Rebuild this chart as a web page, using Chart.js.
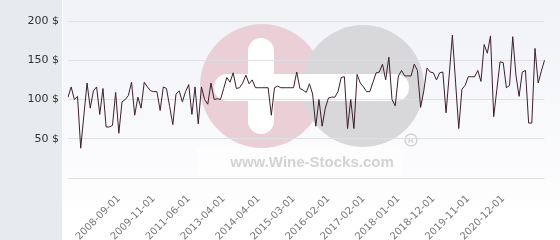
<!DOCTYPE html>
<html lang="en">
<head>
<meta charset="UTF-8">
<title>Wine price history</title>
<script src="https://cdn.jsdelivr.net/npm/chart.js"></script>
<style>
  html, body { margin: 0; padding: 0; background: #fff; }
  #wrap { width: 560px; height: 240px; position: relative; }
</style>
</head>
<body>
<div id="wrap"><canvas id="priceChart"></canvas></div>
<script>
// price per sale, in $
const prices = [
  103, 116, 100, 104, 38, 80, 121, 89, 111, 116,
  81, 114, 65, 65, 67, 109, 57, 97, 100, 105,
  122, 80, 103, 89, 122, 116, 111, 110, 110, 86,
  116, 114, 91, 68, 107, 111, 97, 110, 119, 81,
  116, 69, 116, 100, 94, 121, 100, 101, 100, 114,
  128, 122, 134, 114, 115, 121, 131, 120, 125, 115,
  115, 115, 115, 115, 80, 115, 117, 115, 115, 115,
  115, 115, 135, 114, 112, 109, 120, 107, 66, 100,
  66, 89, 102, 103, 103, 110, 128, 129, 63, 100,
  63, 132, 121, 116, 110, 110, 122, 134, 135, 145,
  125, 154, 100, 92, 130, 137, 130, 130, 130, 145,
  137, 90, 111, 140, 135, 134, 125, 134, 135, 83,
  131, 182, 122, 63, 113, 118, 129, 129, 129, 137,
  123, 170, 159, 181, 78, 113, 148, 147, 115, 118,
  180, 131, 104, 135, 137, 70, 70, 165, 121, 136, 150
];
const tickLabels = ['2008-09-01', '2009-11-01', '2011-06-01', '2013-04-01', '2014-04-01', '2015-03-01',
  '2016-02-01', '2017-02-01', '2018-01-01', '2018-12-01', '2019-11-01', '2020-12-01'];
const tickIndexes = [16, 27, 38, 49, 60, 71, 82, 93, 104, 115, 126, 137];
const yTicks = [50, 100, 150, 200];

const categories = prices.map((p, i) => {
  const k = tickIndexes.indexOf(i);
  return k >= 0 ? tickLabels[k] : '';
});

// background panels + watermark logo
const backdrop = {
  id: 'backdrop',
  beforeDraw(chart) {
    const c = chart.ctx;
    c.save();
    c.fillStyle = '#e8ebee';
    c.fillRect(0, 0, 62, 240);
    const g = c.createLinearGradient(0, 0, 0, 220);
    g.addColorStop(0, '#f1f2f7');
    g.addColorStop(1, '#ffffff');
    c.fillStyle = g;
    c.fillRect(63, 0, 497, 240);
    c.fillStyle = '#ffffff';
    c.fillRect(62, 0, 1, 240);

    // logo
    c.fillStyle = '#eacfd6';
    c.beginPath(); c.arc(262, 86, 62, 0, Math.PI * 2); c.fill();
    c.fillStyle = '#d8d8da';
    c.beginPath(); c.arc(363, 86, 61, 0, Math.PI * 2); c.fill();
    c.fillStyle = '#ffffff';
    c.beginPath(); c.roundRect(248, 38, 26, 96, 13); c.fill();
    c.beginPath(); c.roundRect(214, 74, 195, 27, 13); c.fill();

    c.fillStyle = 'rgba(255,255,255,0.6)';
    c.fillRect(197, 148, 205, 28);
    c.fillStyle = '#d3d3d5';
    c.font = 'bold 15px "Liberation Sans", Arial, sans-serif';
    c.textAlign = 'center';
    c.textBaseline = 'alphabetic';
    c.fillText('www.Wine-Stocks.com', 312, 167);
    c.strokeStyle = '#d3d3d5';
    c.lineWidth = 1.5;
    c.beginPath(); c.arc(411, 140, 6, 0, Math.PI * 2); c.stroke();
    c.font = 'bold 8px "Liberation Sans", Arial, sans-serif';
    c.textBaseline = 'middle';
    c.fillText('R', 411, 140.5);
    c.restore();
  }
};

new Chart(document.getElementById('priceChart'), {
  type: 'line',
  data: {
    labels: categories,
    datasets: [{
      data: prices,
      borderColor: '#3d1f2b',
      borderWidth: 1,
      pointRadius: 0,
      tension: 0,
      fill: false
    }]
  },
  options: {
    responsive: true,
    maintainAspectRatio: false,
    animation: false,
    layout: { padding: { top: 21, right: 5, left: 0, bottom: 0 } },
    plugins: { legend: { display: false }, tooltip: { enabled: false } },
    scales: {
      x: {
        grid: { display: false },
        border: { display: false },
        afterFit: s => { s.height = 62; },
        ticks: {
          autoSkip: false,
          minRotation: 45,
          maxRotation: 45,
          padding: 7,
          color: '#777',
          font: { family: 'DejaVu Sans', size: 10 }
        }
      },
      y: {
        min: 0,
        max: 200,
        afterFit: s => { s.width = 68; },
        grid: { color: '#dfe0e5', drawTicks: false },
        border: { display: false },
        ticks: {
          stepSize: 50,
          padding: 9,
          color: '#333',
          font: { family: 'DejaVu Sans', size: 11 },
          callback: v => yTicks.includes(v) ? v + ' $' : ''
        }
      }
    }
  },
  plugins: [backdrop]
});
</script>
</body>
</html>
